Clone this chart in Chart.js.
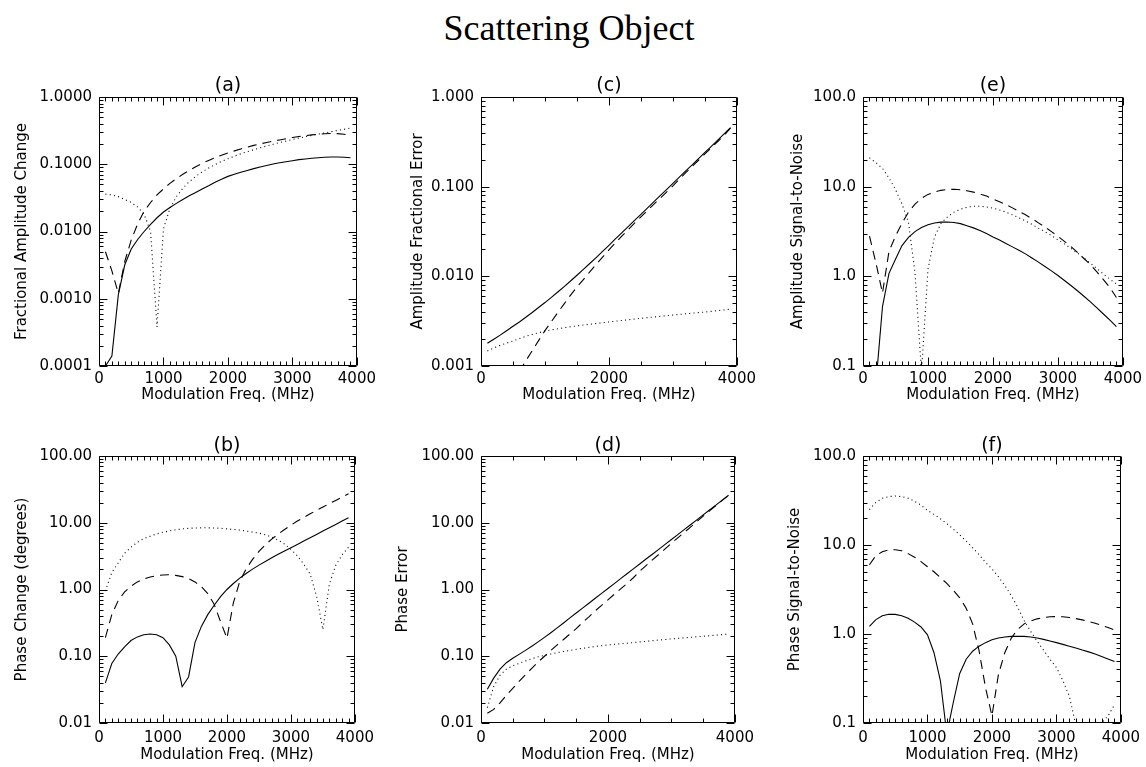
<!DOCTYPE html>
<html>
<head>
<meta charset="utf-8">
<script src="https://cdn.jsdelivr.net/npm/chart.js@4.4.0/dist/chart.umd.min.js"></script>
<style>
  body { margin: 0; background: #fff; }
  #page { position: relative; width: 1146px; height: 767px; overflow: hidden; background: #fff; }
  #mainTitle { position: absolute; left: 0; top: 10px; width: 1138px; text-align: center;
               font-family: 'Liberation Serif', 'Times New Roman', serif; font-size: 36px; line-height: 36px; color: #000; }
  canvas { position: absolute; }
</style>
</head>
<body>
<div id="page">
  <div id="mainTitle">Scattering Object</div>
  <canvas id="pa"></canvas>
  <canvas id="pc"></canvas>
  <canvas id="pe"></canvas>
  <canvas id="pb"></canvas>
  <canvas id="pd"></canvas>
  <canvas id="pf"></canvas>
</div>
<script>
// modulation frequencies (MHz), shared by every curve
const freqMHz = [100, 200, 300, 400, 500, 600, 700, 800, 900, 1000,
  1100, 1200, 1300, 1400, 1500, 1600, 1700, 1800, 1900, 2000,
  2100, 2200, 2300, 2400, 2500, 2600, 2700, 2800, 2900, 3000,
  3100, 3200, 3300, 3400, 3500, 3600, 3700, 3800, 3900];

// (a) fractional amplitude change
const aSolid = [0.0001, 0.00014, 0.00115, 0.0032, 0.0055, 0.0076, 0.0100, 0.0128, 0.0160, 0.0195,
  0.0228, 0.0262, 0.030, 0.034, 0.038, 0.043, 0.048, 0.054, 0.060, 0.066,
  0.071, 0.076, 0.081, 0.086, 0.091, 0.096, 0.101, 0.105, 0.109, 0.113,
  0.117, 0.120, 0.123, 0.125, 0.127, 0.128, 0.128, 0.127, 0.125];
const aDashed = [0.0050, 0.0026, 0.0012, 0.0036, 0.0075, 0.0130, 0.020, 0.027, 0.035, 0.043,
  0.052, 0.061, 0.071, 0.081, 0.092, 0.103, 0.114, 0.125, 0.136, 0.147,
  0.158, 0.169, 0.180, 0.191, 0.201, 0.211, 0.221, 0.230, 0.240, 0.250,
  0.258, 0.266, 0.273, 0.279, 0.284, 0.286, 0.285, 0.280, 0.265];
const aDotted = [0.036, 0.035, 0.033, 0.030, 0.027, 0.023, 0.018, 0.010, 0.00038, 0.011,
  0.022, 0.033, 0.044, 0.055, 0.066, 0.077, 0.088, 0.099, 0.110, 0.121,
  0.132, 0.143, 0.154, 0.165, 0.176, 0.187, 0.198, 0.210, 0.221, 0.233,
  0.245, 0.257, 0.268, 0.280, 0.292, 0.305, 0.318, 0.330, 0.345];

// (c) amplitude fractional error
const cSolid = [0.00179, 0.00199, 0.00221, 0.00247, 0.00277, 0.0031, 0.0035, 0.00395, 0.00449, 0.0051,
  0.00583, 0.00668, 0.00769, 0.00887, 0.01028, 0.01194, 0.0139, 0.0162, 0.019, 0.0222,
  0.0261, 0.0305, 0.0358, 0.042, 0.0492, 0.0577, 0.0676, 0.0793, 0.0929, 0.109,
  0.128, 0.150, 0.175, 0.206, 0.241, 0.282, 0.331, 0.388, 0.455];
const cDashed = [null, null, null, null, null, 0.00087, 0.00114, 0.00148, 0.00192, 0.00248,
  0.00313, 0.00394, 0.00493, 0.00617, 0.0076, 0.0092, 0.0112, 0.0136, 0.0164, 0.0197,
  0.0236, 0.028, 0.0331, 0.0391, 0.046, 0.054, 0.0634, 0.0743, 0.087, 0.102,
  0.121, 0.143, 0.168, 0.197, 0.232, 0.272, 0.319, 0.374, 0.450];
const cDotted = [0.00147, 0.00159, 0.0017, 0.0018, 0.0019, 0.00202, 0.00214, 0.00225, 0.00235, 0.00245,
  0.00253, 0.0026, 0.00267, 0.00274, 0.0028, 0.00286, 0.00292, 0.00298, 0.00304, 0.0031,
  0.00316, 0.00322, 0.00328, 0.00334, 0.0034, 0.00346, 0.00352, 0.00358, 0.00364, 0.0037,
  0.00376, 0.00382, 0.00388, 0.00394, 0.004, 0.00407, 0.00415, 0.00422, 0.0043];

// (e) amplitude signal-to-noise
const eSolid = [0.02, 0.065, 0.46, 1.08, 1.55, 2.2, 2.72, 3.15, 3.5, 3.77,
  3.93, 4.02, 4.04, 3.98, 3.87, 3.67, 3.47, 3.24, 3.0, 2.75,
  2.54, 2.33, 2.13, 1.95, 1.78, 1.60, 1.44, 1.29, 1.15, 1.02,
  0.90, 0.79, 0.69, 0.60, 0.52, 0.445, 0.38, 0.324, 0.275];
const eDashed = [2.8, 1.4, 0.65, 1.9, 2.8, 3.9, 5.2, 6.4, 7.4, 8.2,
  8.7, 9.1, 9.3, 9.35, 9.25, 9.0, 8.7, 8.3, 7.85, 7.3,
  6.8, 6.3, 5.8, 5.3, 4.85, 4.4, 3.95, 3.55, 3.15, 2.8,
  2.45, 2.15, 1.85, 1.58, 1.35, 1.12, 0.92, 0.75, 0.58];
const eDotted = [21, 18.5, 16, 12.5, 9.3, 6.4, 4.0, 1.1, 0.085, 1.2,
  2.75, 3.9, 4.6, 5.2, 5.6, 5.9, 6.05, 6.05, 5.95, 5.75,
  5.5, 5.2, 4.85, 4.5, 4.15, 3.8, 3.45, 3.15, 2.85, 2.55,
  2.3, 2.05, 1.82, 1.6, 1.4, 1.22, 1.06, 0.93, 0.82];

// (b) phase change (degrees)
const bSolid = [0.040, 0.078, 0.108, 0.138, 0.172, 0.195, 0.21, 0.215, 0.21, 0.19,
  0.148, 0.10, 0.035, 0.049, 0.16, 0.28, 0.42, 0.58, 0.78, 1.0,
  1.23, 1.48, 1.74, 2.02, 2.32, 2.63, 2.99, 3.37, 3.78, 4.22,
  4.73, 5.31, 5.96, 6.68, 7.5, 8.41, 9.44, 10.6, 11.9];
const bDashed = [0.19, 0.42, 0.68, 0.92, 1.12, 1.3, 1.43, 1.54, 1.61, 1.65,
  1.66, 1.63, 1.56, 1.46, 1.3, 1.1, 0.87, 0.6, 0.33, 0.186,
  0.63, 1.32, 2.04, 2.82, 3.72, 4.68, 5.69, 6.76, 7.94, 9.2,
  10.6, 12.0, 13.6, 15.3, 17.2, 19.3, 21.6, 24.3, 27.2];
const bDotted = [0.95, 1.8, 2.5, 3.5, 4.3, 5.1, 5.8, 6.3, 6.8, 7.2,
  7.55, 7.85, 8.1, 8.25, 8.35, 8.4, 8.4, 8.35, 8.25, 8.1,
  7.95, 7.75, 7.5, 7.25, 7.0, 6.6, 6.1, 5.5, 4.8, 4.0,
  3.2, 2.4, 1.7, 0.8, 0.25, 1.2, 2.3, 3.3, 4.3];

// (d) phase error
const dSolid = [0.032, 0.047, 0.064, 0.080, 0.0933, 0.1067, 0.1225, 0.1413, 0.164, 0.192,
  0.2254, 0.266, 0.3155, 0.375, 0.444, 0.526, 0.623, 0.738, 0.874, 1.035,
  1.226, 1.452, 1.72, 2.037, 2.41, 2.86, 3.38, 4.0, 4.75, 5.62,
  6.65, 7.88, 9.33, 11.05, 13.1, 15.5, 18.4, 21.8, 25.8];
const dDashed = [0.014, 0.016, 0.020, 0.026, 0.033, 0.042, 0.053, 0.066, 0.082, 0.100,
  0.122, 0.148, 0.178, 0.215, 0.26, 0.32, 0.39, 0.48, 0.58, 0.70,
  0.85, 1.02, 1.23, 1.5, 1.88, 2.28, 2.78, 3.35, 4.05, 4.95,
  5.95, 7.15, 8.6, 10.4, 12.6, 15.1, 18.1, 21.6, 25.7];
const dDotted = [0.017, 0.035, 0.052, 0.064, 0.072, 0.078, 0.085, 0.092, 0.098, 0.103,
  0.108, 0.113, 0.118, 0.122, 0.127, 0.131, 0.136, 0.140, 0.144, 0.148,
  0.151, 0.154, 0.157, 0.160, 0.164, 0.167, 0.171, 0.175, 0.178, 0.182,
  0.185, 0.189, 0.192, 0.196, 0.199, 0.203, 0.207, 0.211, 0.215];

// (f) phase signal-to-noise
const fSolid = [1.22, 1.45, 1.6, 1.67, 1.66, 1.6, 1.5, 1.36, 1.2, 0.98,
  0.62, 0.3, 0.075, 0.17, 0.36, 0.52, 0.64, 0.73, 0.8, 0.86,
  0.9, 0.925, 0.94, 0.945, 0.94, 0.925, 0.9, 0.87, 0.835, 0.8,
  0.765, 0.73, 0.695, 0.66, 0.63, 0.595, 0.56, 0.525, 0.49];
const fDashed = [6.0, 7.6, 8.4, 8.8, 8.85, 8.6, 8.0, 7.3, 6.5, 5.7,
  5.0, 4.3, 3.7, 3.1, 2.55, 1.95, 1.3, 0.65, 0.25, 0.12,
  0.35, 0.62, 0.9, 1.13, 1.3, 1.4, 1.48, 1.53, 1.56, 1.57,
  1.56, 1.53, 1.49, 1.44, 1.38, 1.32, 1.25, 1.18, 1.11];
const fDotted = [25, 30, 33.5, 35, 35.5, 35, 33.5, 31, 28, 24.5,
  22.1, 19.7, 17.4, 15.1, 13.0, 11.1, 9.3, 7.8, 6.4, 5.4,
  4.4, 3.5, 2.7, 2.0, 1.41, 1.07, 0.83, 0.66, 0.52, 0.42,
  0.30, 0.2, 0.095, 0.06, 0.03, 0.06, 0.1, 0.12, 0.16];

// axis ticks
const xTicksWide = [0, 1000, 2000, 3000, 4000];
const xTicksNarrow = [0, 2000, 4000];
const yTicksA = [0.0001, 0.001, 0.01, 0.1, 1];
const yLabelsA = ['0.0001', '0.0010', '0.0100', '0.1000', '1.0000'];
const yTicksC = [0.001, 0.01, 0.1, 1];
const yLabelsC = ['0.001', '0.010', '0.100', '1.000'];
const yTicksSnr = [0.1, 1, 10, 100];
const yLabelsSnr = ['0.1', '1.0', '10.0', '100.0'];
const yTicksPhase = [0.01, 0.1, 1, 10, 100];
const yLabelsPhase = ['0.01', '0.10', '1.00', '10.00', '100.00'];

Chart.defaults.font.family = "'DejaVu Sans', sans-serif";
Chart.defaults.font.size = 15;
Chart.defaults.color = '#000';

// IDL style box: frame plus inward ticks on all four sides
const frameTicks = {
  id: 'frameTicks',
  afterDraw(chart, args, o) {
    const {ctx, chartArea: a} = chart;
    const xs = chart.scales.x, ys = chart.scales.y;
    const L = Math.round(a.left) + 0.5, R = Math.round(a.right) - 0.5;
    const T = Math.round(a.top) + 0.5, B = Math.round(a.bottom) - 0.5;
    ctx.save();
    ctx.strokeStyle = '#000';
    ctx.lineWidth = 1;
    ctx.beginPath();
    ctx.rect(L, T, R - L, B - T);
    for (let v = xs.min; v <= xs.max; v += o.xMinorStep) {
      const len = o.xMajor.includes(v) ? 8 : 4;
      const px = Math.round(xs.getPixelForValue(v)) + 0.5;
      ctx.moveTo(px, B); ctx.lineTo(px, B - len);
      ctx.moveTo(px, T); ctx.lineTo(px, T + len);
    }
    o.yMajor.forEach((d, i) => {
      const kmax = i < o.yMajor.length - 1 ? 9 : 1;
      for (let k = 1; k <= kmax; k++) {
        const len = k === 1 ? 8 : 4;
        const py = Math.round(ys.getPixelForValue(d * k)) + 0.5;
        ctx.moveTo(L, py); ctx.lineTo(L + len, py);
        ctx.moveTo(R, py); ctx.lineTo(R - len, py);
      }
    });
    ctx.stroke();
    ctx.restore();
  }
};

const lineStyles = [[], [9, 6], [1, 3.3]];

function makePanel(p) {
  const cv = document.getElementById(p.id);
  cv.width = p.w; cv.height = p.h;
  cv.style.left = p.left + 'px'; cv.style.top = p.top + 'px';
  cv.style.width = p.w + 'px'; cv.style.height = p.h + 'px';

  new Chart(cv.getContext('2d'), {
    type: 'line',
    data: {
      datasets: p.series.map((vals, k) => ({
        data: freqMHz.map((f, i) => ({x: f, y: vals[i]})),
        borderColor: '#000',
        borderWidth: 1.1,
        borderDash: lineStyles[k],
        pointRadius: 0,
        tension: 0,
        fill: false,
        xAxisID: 'x',
        yAxisID: 'y'
      }))
    },
    options: {
      responsive: false,
      animation: false,
      devicePixelRatio: 1,
      layout: {padding: {left: 0, right: p.padRight, top: 0, bottom: 0}},
      plugins: {
        legend: {display: false},
        tooltip: {enabled: false},
        frameTicks: {xMajor: p.xTicks, xMinorStep: p.xMinorStep, yMajor: p.yTicks}
      },
      scales: {
        x: {
          type: 'linear', position: 'bottom', min: 0, max: 4000,
          afterBuildTicks: s => { s.ticks = p.xTicks.map(v => ({value: v})); },
          afterFit: s => { s.height = 44; },
          grid: {display: false, drawTicks: false},
          border: {display: false},
          ticks: {callback: v => String(v), padding: p.xLabelPad, maxRotation: 0, autoSkip: false},
          title: {display: true, text: 'Modulation Freq. (MHz)', padding: {top: 0, bottom: p.xTitlePad}}
        },
        top: {
          type: 'linear', position: 'top', min: 0, max: 4000,
          afterFit: s => { s.height = p.topH; },
          grid: {display: false, drawTicks: false},
          border: {display: false},
          ticks: {display: false},
          title: {display: true, text: p.letter, font: {size: 19}, padding: {top: 15, bottom: 0}}
        },
        y: {
          type: 'logarithmic', min: p.yTicks[0], max: p.yTicks[p.yTicks.length - 1],
          afterBuildTicks: s => { s.ticks = p.yTicks.map(v => ({value: v})); },
          afterFit: s => { s.width = p.yW; },
          grid: {display: false, drawTicks: false},
          border: {display: false},
          ticks: {callback: (v, i) => p.yLabels[i], padding: 7, autoSkip: false},
          title: {display: true, text: p.yTitle, padding: {top: p.yTitlePad, bottom: 0}}
        }
      }
    },
    plugins: [frameTicks]
  });
}

const row1 = {top: 60, h: 350, topH: 37, xLabelPad: 4, xTitlePad: 6};
const row2 = {top: 420, h: 347, topH: 36, xLabelPad: 6, xTitlePad: 3};
const col1 = {left: 0, w: 380, yW: 99, padRight: 22};
const col2 = {left: 380, w: 380, yW: 101, padRight: 19};
const col3 = {left: 760, w: 386, yW: 103, padRight: 23};

makePanel({id: 'pa', letter: '(a)', yTitle: 'Fractional Amplitude Change', yTitlePad: 13,
  yTicks: yTicksA, yLabels: yLabelsA, xTicks: xTicksWide, xMinorStep: 100,
  series: [aSolid, aDashed, aDotted], ...row1, ...col1});
makePanel({id: 'pc', letter: '(c)', yTitle: 'Amplitude Fractional Error', yTitlePad: 29,
  yTicks: yTicksC, yLabels: yLabelsC, xTicks: xTicksNarrow, xMinorStep: 500,
  series: [cSolid, cDashed, cDotted], ...row1, ...col2});
makePanel({id: 'pe', letter: '(e)', yTitle: 'Amplitude Signal-to-Noise', yTitlePad: 29,
  yTicks: yTicksSnr, yLabels: yLabelsSnr, xTicks: xTicksWide, xMinorStep: 100,
  series: [eSolid, eDashed, eDotted], ...row1, ...col3});
makePanel({id: 'pb', letter: '(b)', yTitle: 'Phase Change (degrees)', yTitlePad: 13,
  yTicks: yTicksPhase, yLabels: yLabelsPhase, xTicks: xTicksWide, xMinorStep: 100,
  series: [bSolid, bDashed, bDotted], ...row2, ...col1});
makePanel({id: 'pd', letter: '(d)', yTitle: 'Phase Error', yTitlePad: 14,
  yTicks: yTicksPhase, yLabels: yLabelsPhase, xTicks: xTicksNarrow, xMinorStep: 500,
  series: [dSolid, dDashed, dDotted], ...row2, ...col2});
makePanel({id: 'pf', letter: '(f)', yTitle: 'Phase Signal-to-Noise', yTitlePad: 26,
  yTicks: yTicksSnr, yLabels: yLabelsSnr, xTicks: xTicksWide, xMinorStep: 100,
  series: [fSolid, fDashed, fDotted], ...row2, ...col3});
</script>
</body>
</html>
